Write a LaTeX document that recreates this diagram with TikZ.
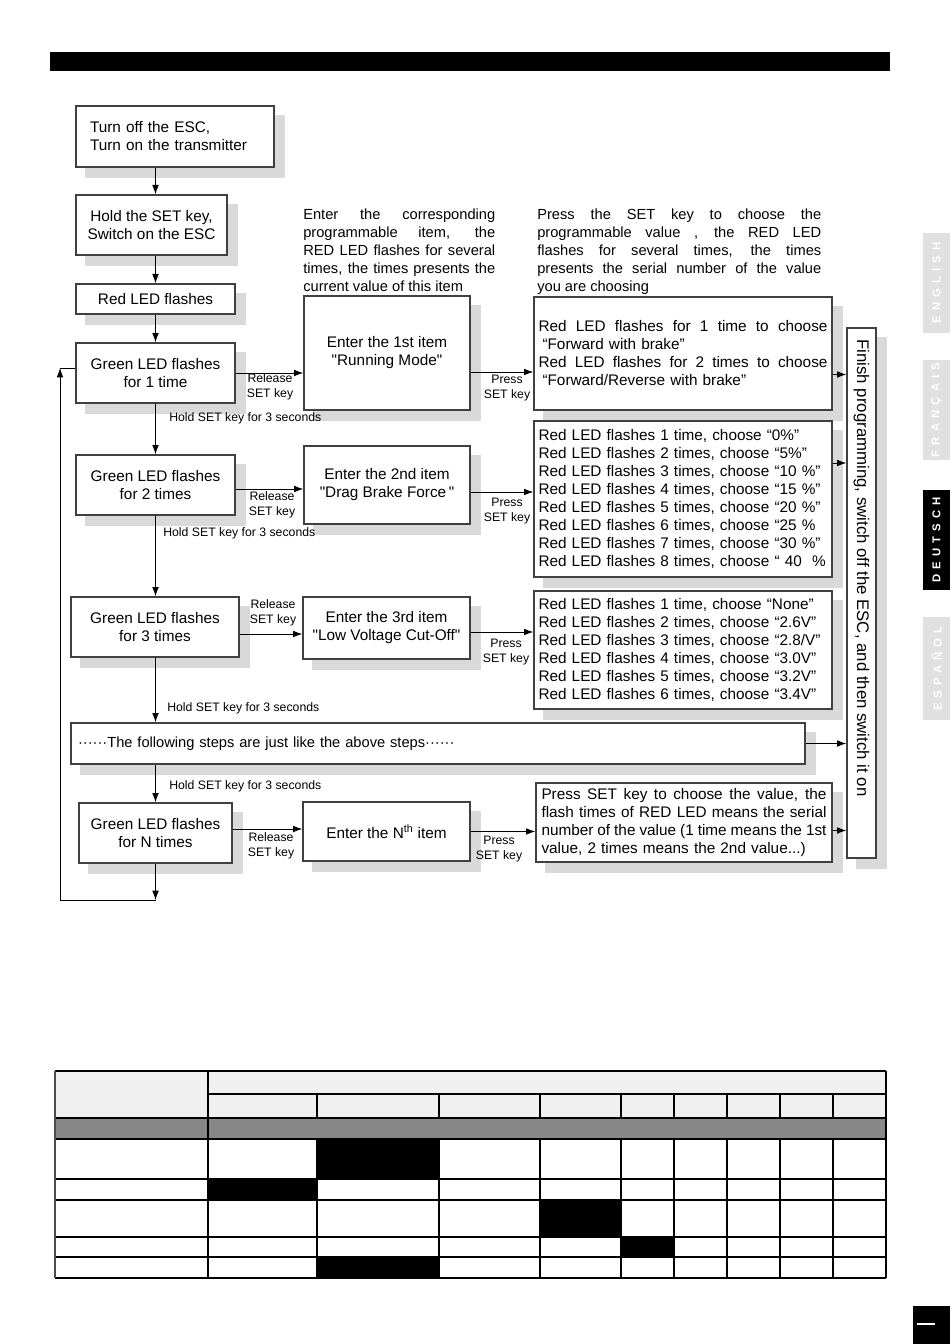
\documentclass[tikz,border=0pt]{standalone}
\usepackage{fontspec}
\setmainfont{Liberation Sans}
\newfontfamily\tabfont[LetterSpace=45]{Liberation Sans}
\newfontfamily\qfont{Liberation Sans}
\usetikzlibrary{arrows.meta,positioning,calc,backgrounds}

\newcommand{\boxfont}{\fontsize{11.5}{13.5}\selectfont}
\newcommand{\notefont}{\fontsize{11}{13.5}\selectfont}
\newcommand{\smallfont}{\fontsize{9.2}{11.25}\selectfont}
\newcommand{\jline}[2]{\makebox[\dimexpr#1pt*3/4\relax][s]{\spaceskip=0pt\xspaceskip=0pt\relax#2}}
\newcommand{\dq}{{\qfont"}}

\tikzset{
  box/.style={draw=black!75, line width=1pt, fill=white, inner sep=0pt, align=center, font=\boxfont},
  sz/.style 2 args={minimum width=#1*0.75pt, minimum height=#2*0.75pt},
  arr/.style={-{Latex[length=7pt,width=5pt]}, line width=0.6pt},
  lbl/.style={font=\smallfont, inner sep=0pt, align=center},
  note/.style={font=\notefont, inner sep=0pt, align=left, anchor=north west},
  shade/.style={fill=black!15},
  tab/.style={fill=black!12, text=white, font=\tabfont\bfseries\fontsize{8.5}{8.5}\selectfont, inner sep=0pt, rotate=90},
}

\begin{document}
\begin{tikzpicture}[x=0.75pt,y=0.75pt,yscale=-1]
\useasboundingbox (0,0) rectangle (950,1344);

% title bar
\fill (50,52) rectangle (890,71);

% left column
\node[box, sz={198}{61}, text width=127.5pt, align=left] (off) at (175,136.5) {Turn off the ESC,\\Turn on the transmitter};
\node[box, sz={151}{60}] (hold) at (151.5,225) {Hold the SET key,\\Switch on the ESC};
\node[box, sz={159}{30}] (red) at (155.5,299) {Red LED flashes};
\node[box, sz={159}{60}] (g1) at (155.5,373) {Green LED flashes\\for 1 time};
\node[box, sz={159}{60}] (g2) at (155.5,485) {Green LED flashes\\for 2 times};
\node[box, sz={168}{60}] (g3) at (155,627) {Green LED flashes\\for 3 times};
\node[box, sz={734}{41}, text width=540pt, align=left, font=\notefont] (follow) at (438,743.5) {······The following steps are just like the above steps······};
\node[box, sz={153}{60}] (gN) at (155.5,833) {Green LED flashes\\for N times};

% middle column
\node[box, sz={166}{114}] (it1) at (387,353) {Enter the 1st item\\\dq Running Mode\dq};
\node[box, sz={166}{78}] (it2) at (387,485) {Enter the 2nd item\\\dq Drag Brake Force\,\dq};
\node[box, sz={167}{62}] (it3) at (386.5,628) {Enter the 3rd item\\\dq Low Voltage Cut-Off\dq};
\node[box, sz={167}{59}] (itN) at (386.5,831.5) {Enter the N\textsuperscript{th} item};

% right column
\node[box, sz={298}{113}, text width=216.75pt, align=left] (r1) at (683,353.5) {%
\jline{289}{Red LED flashes for 1 time to choose}\\
\hspace*{3pt}“Forward with brake”\\
\jline{289}{Red LED flashes for 2 times to choose}\\
\hspace*{3pt}“Forward/Reverse with brake”};
\node[box, sz={298}{156}, text width=216.75pt, align=left] (r2) at (683,499) {%
Red LED flashes 1 time, choose “0\%”\\
Red LED flashes 2 times, choose “5\%”\\
Red LED flashes 3 times, choose “10 \%”\\
Red LED flashes 4 times, choose “15 \%”\\
Red LED flashes 5 times, choose “20 \%”\\
Red LED flashes 6 times, choose “25 \%\\
Red LED flashes 7 times, choose “30 \%”\\
Red LED flashes 8 times, choose “ 40 \ \%};
\node[box, sz={298}{118}, text width=216.75pt, align=left] (r3) at (683,650) {%
Red LED flashes 1 time, choose “None”\\
Red LED flashes 2 times, choose “2.6V”\\
Red LED flashes 3 times, choose “2.8/V”\\
Red LED flashes 4 times, choose “3.0V”\\
Red LED flashes 5 times, choose “3.2V”\\
Red LED flashes 6 times, choose “3.4V”};
\node[box, sz={296}{79}, text width=213.75pt, align=left] (r4) at (684,822.5) {%
\jline{285}{Press SET key to choose the value, the}\\
\jline{285}{flash times of RED LED means the serial}\\
\jline{285}{number of the value (1 time means the 1st}\\
value, 2 times means the 2nd value...)};

% finish box
\node[box, sz={29}{530}] (fin) at (861.5,593) {};
\node[rotate=-90, inner sep=0pt, font=\fontsize{12.6}{13}\selectfont] (fint) at (861.5,568) {Finish programming, switch off the ESC, and then switch it on};

% notes above the columns
\node[note] (n1) at (303,209) {%
\jline{192}{Enter the corresponding}\\
\jline{192}{programmable item, the}\\
\jline{192}{RED LED flashes for several}\\
\jline{192}{times, the times presents the}\\
current value of this item};
\node[note] (n2) at (537,209) {%
\jline{284}{Press the SET key to choose the}\\
\jline{284}{programmable value , the RED LED}\\
\jline{284}{flashes for several times, the times}\\
\jline{284}{presents the serial number of the value}\\
you are choosing};

% vertical flow
\draw[arr] (off.south -| g1) -- (hold.north -| g1);
\draw[arr] (hold.south -| g1) -- (red.north -| g1);
\draw[arr] (red.south) -- (g1.north);
\draw[arr] (g1.south) -- (g2.north);
\draw[arr] (g2.south) -- (g3.north -| g2);
\draw[arr] (g3.south -| g2) -- (follow.north -| g2);
\draw[arr] (follow.south -| g2) -- (gN.north -| g2);

\node[lbl, anchor=west] (h1) at (169,418) {Hold SET key for 3 seconds};
\node[lbl, anchor=west] (h2) at (163,533) {Hold SET key for 3 seconds};
\node[lbl, anchor=west] (h3) at (167,708) {Hold SET key for 3 seconds};
\node[lbl, anchor=west] (h4) at (169,786) {Hold SET key for 3 seconds};

% release arrows
\draw[arr] (g1.east) -- (g1.east -| it1.west);
\draw[arr] ($(g2.east)+(0,4)$) -- ($(it2.west |- g2.east)+(0,4)$);
\draw[arr] ($(g3.east)+(0,7)$) -- ($(it3.west |- g3.east)+(0,7)$);
\draw[arr] ($(gN.east)+(0,-4)$) -- ($(itN.west |- gN.east)+(0,-4)$);
\node[lbl] (rl1) at (270,386.5) {Release\\SET key};
\node[lbl] (rl2) at (272,505) {Release\\SET key};
\node[lbl] (rl3) at (273,613) {Release\\SET key};
\node[lbl] (rl4) at (271,846) {Release\\SET key};

% press arrows
\draw[arr] ($(it1.east)+(0,19)$) -- ($(r1.west |- it1.east)+(0,19)$);
\draw[arr] ($(it2.east)+(0,7)$) -- ($(r2.west |- it2.east)+(0,7)$);
\draw[arr] ($(it3.east)+(0,4)$) -- ($(r3.west |- it3.east)+(0,4)$);
\draw[arr] (itN.east) -- (itN.east -| r4.west);
\node[lbl] (pr1) at (507,388) {Press\\SET key};
\node[lbl] (pr2) at (507,511) {Press\\SET key};
\node[lbl] (pr3) at (506,652) {Press\\SET key};
\node[lbl] (pr4) at (499,849) {Press\\SET key};

% into finish box
\draw[arr] ($(r1.east)+(0,21)$) -- ($(fin.west |- r1.east)+(0,21)$);
\draw[arr] ($(r2.east)+(0,-36)$) -- ($(fin.west |- r2.east)+(0,-36)$);
\draw[arr] (follow.east) -- (follow.east -| fin.west);
\draw[arr] ($(r4.east)+(0,8)$) -- ($(fin.west |- r4.east)+(0,8)$);

% loop back
\coordinate (lpb) at (155.5,900);
\coordinate (lpl) at (60,900);
\coordinate (lpt) at (60,368);
\draw[arr] (gN.south) -- (lpb);
\draw[line width=0.6pt] (lpb) -- (lpl);
\draw[arr] (lpl) -- (lpt);
\draw[line width=0.6pt] (lpt) -- (lpt -| g1.west);

% language tabs
\node[tab, sz={100}{27}] (en) at (936.5,283) {ENGLISH};
\node[tab, sz={100}{27}] (fr) at (936.5,410) {FRANÇAIS};
\node[tab, sz={100}{27}, fill=black] (de) at (936.5,540) {DEUTSCH};
\node[tab, sz={103}{27}] (es) at (936.5,668.5) {ESPAÑOL};

% page tab
\fill (913,1306) rectangle (950,1344);
\draw[white, line width=0.8pt] (917,1324) -- (935,1324);

% table
\fill[black!6] (55,1071) rectangle (886,1118);
\fill[black!47] (55,1118) rectangle (886,1139);
\fill (317,1139) rectangle (439,1179);
\fill (208,1179) rectangle (317,1200);
\fill (540,1200) rectangle (621,1237);
\fill (621,1237) rectangle (674,1257);
\fill (317,1257) rectangle (439,1278);
\draw[line width=1.3pt] (55,1071) -- (886,1071);
\draw[line width=0.8pt] (208,1094) -- (886,1094);
\draw[line width=2.2pt] (55,1118) -- (886,1118);
\foreach \y in {1139,1179,1237,1257}
  \draw[line width=0.8pt] (55,\y) -- (886,\y);
\draw[line width=1.3pt] (55,1200) -- (886,1200);
\draw[line width=1.3pt] (55,1278) -- (886,1278);
\draw[line width=1pt, black!70] (55,1071) -- (55,1278);
\draw[line width=0.8pt] (208,1071) -- (208,1278);
\foreach \x in {317,439,540,621,674,727,780,833} {
  \draw[line width=0.8pt] (\x,1094) -- (\x,1118);
  \draw[line width=0.8pt] (\x,1139) -- (\x,1278);
}
\draw[line width=0.8pt] (886,1071) -- (886,1278);

% shadows
\begin{scope}[on background layer]
\foreach \b in {off,hold,red,g1,g2,g3,follow,gN,it1,it2,it3,itN,r1,r2,r3,r4,fin}
  \fill[shade] ($(\b.north west)+(10,10)$) rectangle ($(\b.south east)+(10,10)$);
\end{scope}
\end{tikzpicture}
\end{document}
